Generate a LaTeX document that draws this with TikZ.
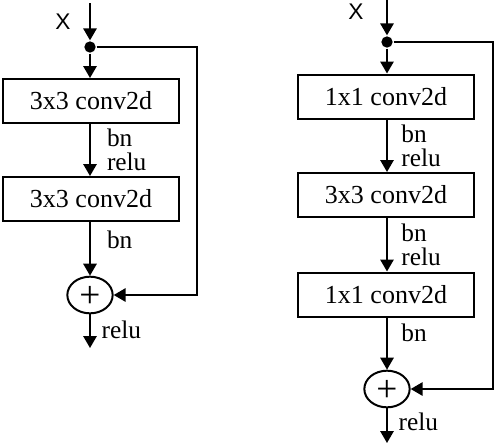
\documentclass[tikz,border=0pt]{standalone}
\usepackage{fontspec}
\setmainfont{Liberation Serif}
\newfontfamily\xfont{Liberation Sans}
\usetikzlibrary{positioning,arrows.meta,shapes.geometric}

\begin{document}
\begin{tikzpicture}[
    x=0.75pt, y=-0.75pt,
    line width=1.5pt,
    conv/.style={draw, line width=1.5pt, minimum width=132pt, minimum height=33pt, inner sep=0pt, font=\fontsize{19.5}{19.5}\selectfont},
    addop/.style={draw, ellipse, line width=1.5pt, minimum width=34pt, minimum height=27.5pt, inner sep=0pt,
        label={[inner sep=0pt, yshift=-1.5pt, font=\fontsize{28}{28}\selectfont]center:+}},
    junc/.style={circle, fill=black, minimum size=8.5pt, inner sep=0pt},
    arr/.style={-{Triangle[width=10pt,length=9pt]}},
    lbl/.style={anchor=west, align=left, inner sep=0pt, font=\fontsize{19}{18}\selectfont},
    xlbl/.style={inner sep=0pt, font=\xfont\fontsize{17}{17}\selectfont}
]
\useasboundingbox (0,0) rectangle (496,444);

% basic block
\coordinate (in1) at (90,3);
\node[xlbl] (x1) at (63,22) {X};
\node[junc] (dot1) at (90,47) {};
\node[conv] (c1a) at (91,101) {3x3 conv2d};
\node[conv] (c1b) at (91,199) {3x3 conv2d};
\node[addop] (add1) at (90,295) {};
\coordinate (out1) at (90,348);
\coordinate (r1a) at (197,47);
\coordinate (r1b) at (197,295);

\draw[arr] (in1) -- (dot1);
\draw[arr] (dot1) -- (dot1 |- c1a.north);
\draw[arr] (dot1 |- c1a.south) -- (dot1 |- c1b.north) node[lbl, midway, xshift=12pt] {bn\\relu};
\draw[arr] (dot1 |- c1b.south) -- (add1) node[lbl, midway, xshift=12pt, yshift=6.5pt] {bn};
\draw[arr] (add1) -- (out1) node[lbl, midway, xshift=8pt, yshift=1pt] {relu};
\draw[arr] (dot1) -- (r1a) -- (r1b) -- (add1);

% bottleneck block
\coordinate (in2) at (387,0);
\node[xlbl] (x2) at (356,12) {X};
\node[junc] (dot2) at (387,42) {};
\node[conv] (c2a) at (386,96.5) {1x1 conv2d};
\node[conv] (c2b) at (386,195) {3x3 conv2d};
\node[conv] (c2c) at (386,294.5) {1x1 conv2d};
\node[addop] (add2) at (387,389) {};
\coordinate (out2) at (387,443);
\coordinate (r2a) at (493,42);
\coordinate (r2b) at (493,389);

\draw[arr] (in2) -- (dot2);
\draw[arr] (dot2) -- (dot2 |- c2a.north);
\draw[arr] (dot2 |- c2a.south) -- (dot2 |- c2b.north) node[lbl, midway, xshift=10pt] {bn\\relu};
\draw[arr] (dot2 |- c2b.south) -- (dot2 |- c2c.north) node[lbl, midway, xshift=10pt] {bn\\relu};
\draw[arr] (dot2 |- c2c.south) -- (add2) node[lbl, midway, xshift=10pt, yshift=8pt] {bn};
\draw[arr] (add2) -- (out2) node[lbl, midway, xshift=8pt, yshift=3pt] {relu};
\draw[arr] (dot2) -- (r2a) -- (r2b) -- (add2);
\end{tikzpicture}
\end{document}
